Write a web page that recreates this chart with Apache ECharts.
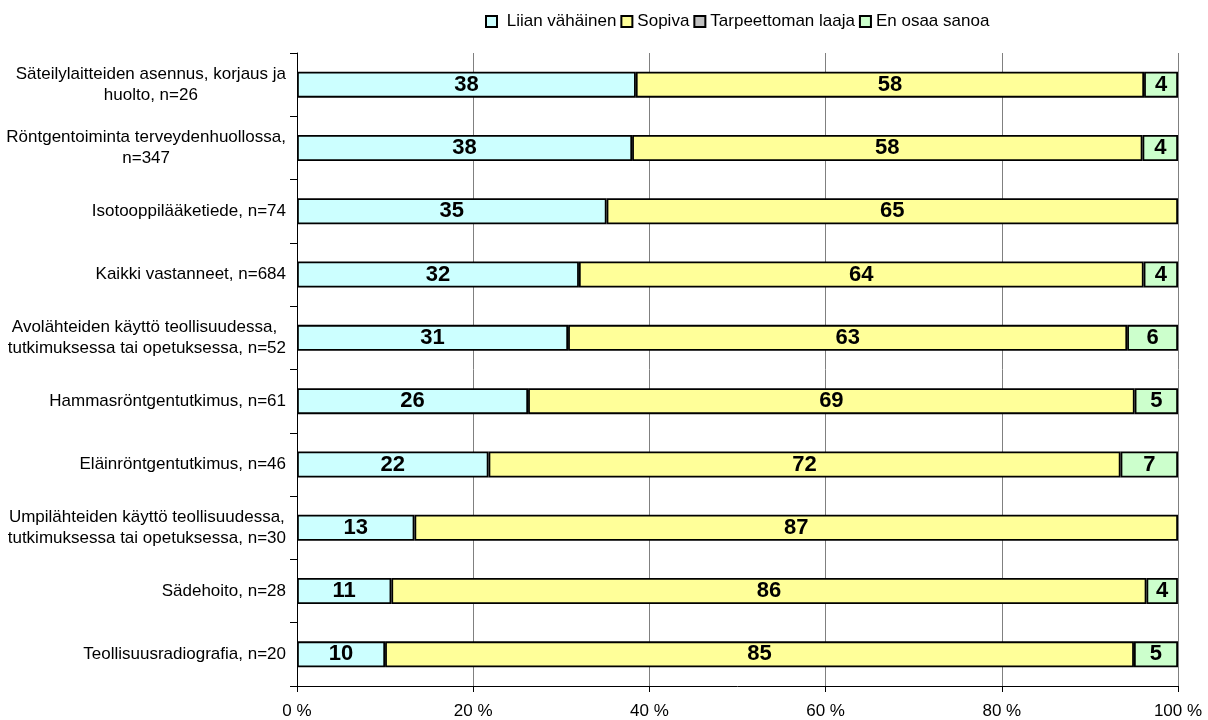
<!DOCTYPE html>
<html><head><meta charset="utf-8">
<script src="https://cdn.jsdelivr.net/npm/echarts@6/dist/echarts.min.js"></script>
<style>html,body{margin:0;padding:0;background:#fff}#c{width:1208px;height:720px}</style>
</head><body><div id="c"></div>
<script>
const categories = [
  "Säteilylaitteiden asennus, korjaus ja\nhuolto, n=26",
  "Röntgentoiminta terveydenhuollossa,\nn=347",
  "Isotooppilääketiede, n=74",
  "Kaikki vastanneet, n=684",
  "Avolähteiden käyttö teollisuudessa, \ntutkimuksessa tai opetuksessa, n=52",
  "Hammasröntgentutkimus, n=61",
  "Eläinröntgentutkimus, n=46",
  "Umpilähteiden käyttö teollisuudessa,\ntutkimuksessa tai opetuksessa, n=30",
  "Sädehoito, n=28",
  "Teollisuusradiografia, n=20"
];
const seriesNames = ["Liian vähäinen", "Sopiva", "Tarpeettoman laaja", "En osaa sanoa"];
const liian = [38.46, 38.04, 35.14, 32.0, 30.77, 26.23, 21.74, 13.33, 10.71, 10.0];
const sopiva = [57.69, 57.93, 64.86, 64.1, 63.46, 68.85, 71.74, 86.67, 85.71, 85.0];
const tarpeeton = [0, 0, 0, 0, 0, 0, 0, 0, 0, 0];
const enOsaa = [3.85, 4.03, 0, 3.9, 5.77, 4.92, 6.52, 0, 3.57, 5.0];
const xTicks = [0, 20, 40, 60, 80, 100];
const colors = ["#CCFFFF", "#FFFF99", "#C0C0C0", "#CCFFCC"];

const font = "'Liberation Sans', Arial, sans-serif";
const chart = echarts.init(document.getElementById('c'), null, {renderer: 'canvas'});
const dataSets = [liian, sopiva, tarpeeton, enOsaa];
const series = dataSets.map((d, i) => ({
  name: seriesNames[i],
  type: 'bar',
  stack: 'total',
  barWidth: 26,
  data: d.map(v => v > 0 ? v : null),
  itemStyle: {color: colors[i], borderColor: '#000', borderWidth: 1.8},
  label: {
    show: true, position: 'inside', color: '#000',
    fontFamily: font, fontWeight: 'bold', fontSize: 22,
    formatter: p => (p.value > 0 ? String(Math.round(p.value)) : '')
  },
  emphasis: {disabled: true}
}));
chart.setOption({
  animation: false,
  textStyle: {fontFamily: font},
  legend: {
    top: 8, left: 480,
    itemWidth: 11, itemHeight: 11, itemGap: 4,
    icon: 'rect',
    itemStyle: {borderColor: '#000', borderWidth: 2},
    formatter: n => (n === seriesNames[0] ? ' ' + n : n),
    textStyle: {fontFamily: font, fontSize: 17, color: '#000'},
    data: seriesNames
  },
  grid: {left: 297, right: 30, top: 53, bottom: 34, containLabel: false},
  xAxis: {
    type: 'value', min: 0, max: 100, interval: 20,
    axisLine: {show: true, lineStyle: {color: '#000', width: 1}},
    axisTick: {show: true, length: 6, lineStyle: {color: '#000'}},
    splitLine: {show: true, lineStyle: {color: '#808080', width: 1}},
    axisLabel: {
      fontFamily: font, fontSize: 17, color: '#000', margin: 17,
      formatter: v => (xTicks.indexOf(v) >= 0 ? v + ' %' : '')
    }
  },
  yAxis: {
    type: 'category', inverse: true, data: categories,
    axisLine: {show: true, lineStyle: {color: '#000', width: 1}},
    axisTick: {show: true, length: 7, inside: false, lineStyle: {color: '#000'}},
    axisLabel: {
      margin: 11, fontFamily: font, fontSize: 17, color: '#000', lineHeight: 21,
      formatter: v => v.split('\n').map(s => '{a|' + s + '}').join('\n'),
      rich: {a: {align: 'center', fontFamily: font, fontSize: 17, color: '#000', lineHeight: 21}}
    }
  },
  series: series
});
</script></body></html>
